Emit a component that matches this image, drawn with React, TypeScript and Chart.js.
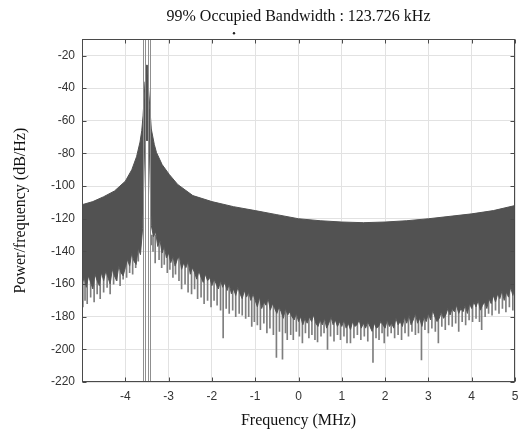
import React, { useEffect, useRef } from "react";
import { Chart, registerables } from "chart.js";

Chart.register(...registerables);

const titleText = "99% Occupied Bandwidth : 123.726 kHz";
const xAxisTitle = "Frequency (MHz)";
const yAxisTitle = "Power/frequency (dB/Hz)";

const xTicks = [-4, -3, -2, -1, 0, 1, 2, 3, 4, 5];
const yTicks = [-220, -200, -180, -160, -140, -120, -100, -80, -60, -40, -20];

// occupied bandwidth markers (MHz)
const obwEdges = [-3.567, -3.443];

// upper envelope of the PSD
const upperFreq = [
  -5.0, -4.75, -4.5, -4.25, -4.0, -3.85, -3.74, -3.66, -3.62, -3.59, -3.565, -3.545,
  -3.525, -3.485, -3.465, -3.43, -3.4, -3.33, -3.28, -3.15, -2.98, -2.79, -2.44, -2.0,
  -1.5, -1.0, -0.5, 0.0, 0.5, 1.0, 1.5, 2.0, 2.5, 3.0, 3.5, 4.0, 4.5, 5.0,
];
const upperPower = [
  -111.4, -109.5, -106.5, -103, -97, -90, -82, -73, -66, -57, -46, -36,
  -26, -26, -40, -53, -65, -74.5, -79.4, -86.8, -93, -99, -105.8, -109.5,
  -112.6, -115, -117.5, -120, -121.2, -122, -122.4, -122, -121.2, -120, -118.5, -117, -115, -111.9,
];

// lower edge of the dense body, sampled every 0.05 MHz from -5 to 5
const lowerStart = -5;
const lowerStep = 0.05;
const lowerPower = [
  -160, -156, -162, -155, -159, -163, -154, -158, -161, -153,
  -158, -152, -156, -160, -151, -155, -158, -149, -153, -155,
  -150, -145, -149, -141, -146, -148, -138, -142, -126, -72,
  -72, -72, -124, -131, -128, -137, -133, -141, -137, -144,
  -141, -147, -143, -149, -145, -143, -151, -147, -150, -146,
  -154, -150, -153, -157, -152, -156, -159, -154, -158, -156,
  -161, -157, -160, -163, -158, -162, -159, -164, -160, -166,
  -163, -167, -162, -166, -169, -164, -168, -165, -170, -166,
  -170, -174, -168, -175, -171, -173, -169, -176, -172, -175,
  -178, -174, -177, -181, -175, -179, -177, -180, -182, -178,
  -183, -180, -185, -181, -184, -180, -183, -179, -184, -186,
  -182, -185, -181, -187, -184, -180, -185, -182, -186, -183,
  -186, -182, -187, -184, -188, -183, -186, -185, -182, -187,
  -184, -187, -183, -186, -189, -184, -187, -186, -183, -185,
  -187, -182, -186, -184, -187, -181, -185, -183, -186, -180,
  -184, -179, -185, -182, -178, -184, -181, -186, -180, -183,
  -178, -182, -176, -180, -183, -181, -177, -181, -179, -175,
  -179, -175, -177, -173, -178, -175, -177, -173, -178, -172,
  -175, -171, -174, -170, -176, -173, -171, -175, -169, -172,
  -167, -171, -166, -169, -164, -170, -165, -168, -162, -167, -162,
];

// thin noise spikes below the body
const spikeTop = -130;
const spikeFreq = [
  -4.98, -4.93, -4.88, -4.8, -4.72, -4.65, -4.58, -4.5, -4.42, -4.35, -4.27, -4.2, -4.12,
  -4.05, -3.97, -3.9, -3.83, -3.76, -3.7, -3.66,
  -3.4, -3.36, -3.31, -3.22, -3.16, -3.1, -3.03, -2.97, -2.9, -2.84, -2.76, -2.7, -2.62,
  -2.55, -2.47, -2.4, -2.33, -2.25, -2.18, -2.1, -2.02, -1.95, -1.88, -1.8, -1.74, -1.67,
  -1.6, -1.52, -1.45, -1.37, -1.3, -1.22, -1.15, -1.08, -1.02, -0.95, -0.88, -0.8, -0.73,
  -0.66, -0.58, -0.51, -0.44, -0.37, -0.3, -0.26, -0.18, -0.12, -0.05, 0.02, 0.09, 0.16,
  0.24, 0.31, 0.38, 0.44, 0.52, 0.59, 0.67, 0.74, 0.82, 0.9, 0.97, 1.05, 1.12, 1.2, 1.28,
  1.36, 1.44, 1.52, 1.6, 1.72, 1.79, 1.86, 1.93, 1.98, 2.06, 2.14, 2.22, 2.3, 2.38, 2.46,
  2.54, 2.62, 2.7, 2.77, 2.84, 2.92, 3.0, 3.08, 3.16, 3.23, 3.31, 3.39, 3.47, 3.55, 3.63,
  3.7, 3.78, 3.86, 3.94, 4.02, 4.1, 4.18, 4.23, 4.31, 4.39, 4.47, 4.55, 4.63, 4.71, 4.79,
  4.87, 4.95,
];
const spikeLow = [
  -174, -170, -172, -168, -171, -166, -169, -165, -162, -166, -160, -158, -161,
  -157, -156, -153, -154, -150, -146, -140,
  -136, -140, -147, -145, -150, -148, -153, -151, -156, -154, -158, -163, -160,
  -165, -166, -163, -169, -168, -172, -170, -174, -170, -173, -176, -193, -175,
  -178, -176, -180, -178, -179, -181, -180, -186, -183, -185, -188, -184, -190,
  -187, -191, -205, -189, -206, -190, -194, -191, -194, -189, -192, -196, -190,
  -193, -191, -194, -195.5, -192, -190, -200, -192, -195, -191, -194, -192, -196, -196, -193,
  -191, -194, -192, -195, -208, -193, -194, -190, -196, -192, -190, -193, -191, -194, -190,
  -192, -189, -191, -190, -206.5, -188, -190, -187, -189, -196, -186, -188, -185, -186, -184,
  -189, -183, -185, -182, -183, -181, -183, -188, -180, -178, -179, -176, -178, -175, -177,
  -174, -176,
];

const markerDot = { freq: -1.49 };

const framePlugin = {
  id: "framePlugin",
  afterDatasetsDraw(chart: any) {
    const { ctx, chartArea, scales } = chart;
    const xs = scales.x;
    const ys = scales.y;
    ctx.save();
    // occupied bandwidth lines
    obwEdges.forEach((f) => {
      const px = Math.round(xs.getPixelForValue(f));
      ctx.strokeStyle = "#8f8f8f";
      ctx.lineWidth = 1;
      ctx.beginPath();
      ctx.moveTo(px - 1 + 0.5, chartArea.top);
      ctx.lineTo(px - 1 + 0.5, chartArea.bottom);
      ctx.moveTo(px + 1 + 0.5, chartArea.top);
      ctx.lineTo(px + 1 + 0.5, chartArea.bottom);
      ctx.stroke();
    });
    // frame
    ctx.strokeStyle = "#4a4a4a";
    ctx.lineWidth = 1;
    const l = Math.round(chartArea.left) + 0.5;
    const r = Math.round(chartArea.right) - 0.5;
    const t = Math.round(chartArea.top) + 0.5;
    const b = Math.round(chartArea.bottom) - 0.5;
    ctx.strokeRect(l, t, r - l, b - t);
    // inward ticks
    ctx.beginPath();
    xTicks.forEach((v) => {
      const px = Math.round(xs.getPixelForValue(v)) + 0.5;
      ctx.moveTo(px, b);
      ctx.lineTo(px, b - 4);
      ctx.moveTo(px, t);
      ctx.lineTo(px, t + 4);
    });
    yTicks.forEach((v) => {
      const py = Math.round(ys.getPixelForValue(v)) + 0.5;
      ctx.moveTo(l, py);
      ctx.lineTo(l + 4, py);
      ctx.moveTo(r, py);
      ctx.lineTo(r - 4, py);
    });
    ctx.stroke();
    // small dot above plot
    ctx.fillStyle = "#222";
    ctx.beginPath();
    ctx.arc(xs.getPixelForValue(markerDot.freq), chartArea.top - 6, 1.2, 0, Math.PI * 2);
    ctx.fill();
    ctx.restore();
  },
};

export default function App() {
  const canvasRef = useRef<HTMLCanvasElement | null>(null);

  useEffect(() => {
    const canvas = canvasRef.current;
    if (!canvas) return;
    const upperData = upperFreq.map((x, i) => ({ x, y: upperPower[i] }));
    const lowerData = lowerPower.map((y, i) => ({ x: lowerStart + i * lowerStep, y }));
    const spikeData = spikeFreq.map((x, i) => ({ x, y: [spikeTop, spikeLow[i]] }));
    const chart = new Chart(canvas, {
      type: "line",
      data: {
        datasets: [
          {
            type: "line",
            data: upperData,
            borderColor: "#525252",
            backgroundColor: "#525252",
            borderWidth: 1,
            pointRadius: 0,
            tension: 0,
            fill: "+1",
            order: 1,
          },
          {
            type: "line",
            data: lowerData,
            borderColor: "#5c5c5c",
            backgroundColor: "#525252",
            borderWidth: 1,
            pointRadius: 0,
            tension: 0,
            fill: false,
            order: 2,
          },
          {
            type: "bar",
            data: spikeData,
            backgroundColor: "#7e7e7e",
            borderWidth: 0,
            barThickness: 1,
            grouped: false,
            order: 3,
          },
        ],
      },
      options: {
        animation: false,
        responsive: false,
        devicePixelRatio: 1,
        layout: { padding: { top: 0, right: 7, bottom: 0, left: 0 } },
        plugins: {
          legend: { display: false },
          tooltip: { enabled: false },
          title: {
            display: true,
            fullSize: false,
            text: titleText,
            color: "#111",
            font: { family: "'Liberation Serif', serif", size: 16, weight: "normal" },
            padding: { top: 7, bottom: 13 },
          },
        },
        scales: {
          x: {
            type: "linear",
            min: -5,
            max: 5,
            offset: false,
            afterBuildTicks: (axis: any) => {
              axis.ticks = xTicks.map((v) => ({ value: v }));
            },
            afterFit: (axis: any) => {
              axis.height = 57;
              axis.paddingLeft = 0;
              axis.paddingRight = 0;
            },
            grid: { color: "#e2e2e2", drawTicks: false, offset: false },
            border: { display: false },
            ticks: {
              padding: 7,
              color: "#333",
              font: { family: "'Liberation Sans', sans-serif", size: 12 },
              callback: (v: any) => String(v),
            },
            title: {
              display: true,
              text: xAxisTitle,
              color: "#111",
              font: { family: "'Liberation Serif', serif", size: 16 },
              padding: { top: 0, bottom: 9 },
            },
          },
          y: {
            type: "linear",
            min: -220,
            max: -10,
            afterBuildTicks: (axis: any) => {
              axis.ticks = yTicks.map((v) => ({ value: v }));
            },
            afterFit: (axis: any) => {
              axis.width = 82;
            },
            grid: { color: "#e2e2e2", drawTicks: false },
            border: { display: false },
            ticks: {
              padding: 7,
              color: "#333",
              font: { family: "'Liberation Sans', sans-serif", size: 12 },
              callback: (v: any) => String(v),
            },
            title: {
              display: true,
              text: yAxisTitle,
              color: "#111",
              font: { family: "'Liberation Serif', serif", size: 16 },
              padding: { top: 11, bottom: 0 },
            },
          },
        },
      },
      plugins: [framePlugin],
    } as any);
    return () => chart.destroy();
  }, []);

  return (
    <div style={{ position: "fixed", left: 0, top: 0, width: 522, height: 439, background: "#fff" }}>
      <canvas ref={canvasRef} width={522} height={439} style={{ display: "block" }} />
    </div>
  );
}
